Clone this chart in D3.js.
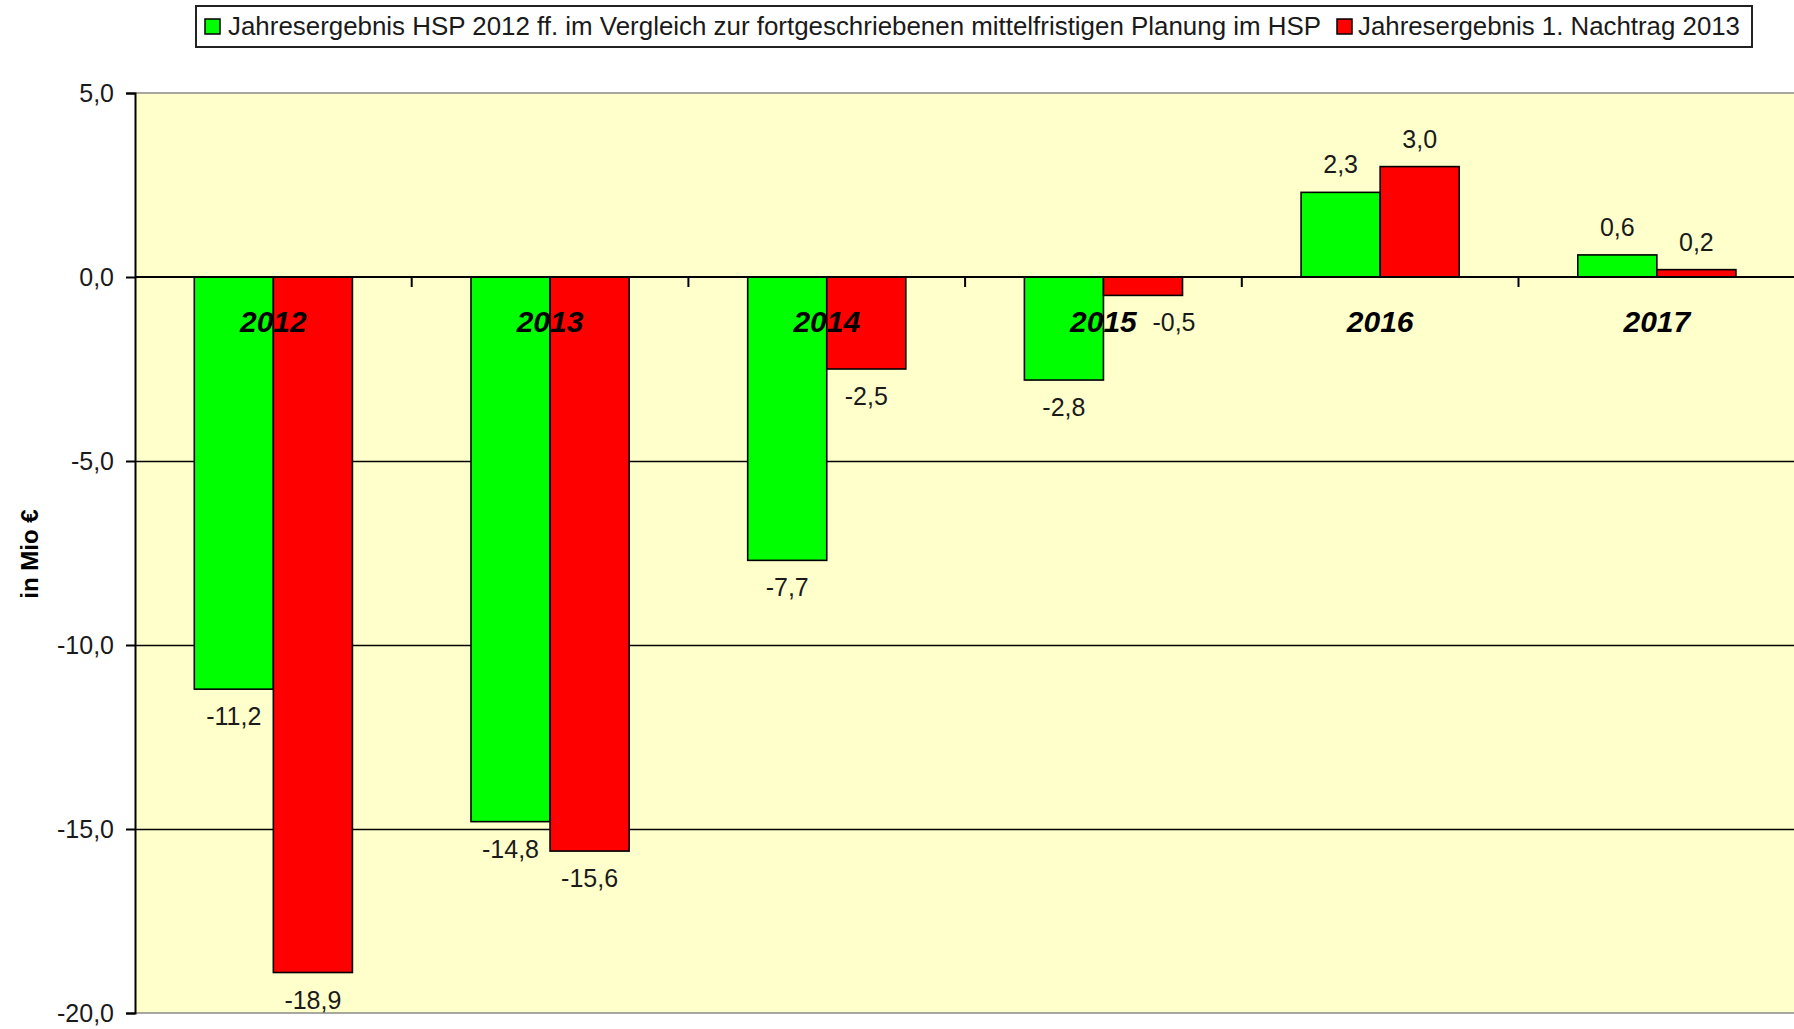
<!DOCTYPE html>
<html>
<head>
<meta charset="utf-8">
<script src="https://cdn.jsdelivr.net/npm/d3@7"></script>
<style>
  html, body { margin: 0; padding: 0; background: #fff; }
  svg { display: block; }
  text { font-family: "Liberation Sans", Arial, sans-serif; }
</style>
</head>
<body>
<svg id="chart" width="1794" height="1029"></svg>
<script>
// ---- data ----
const years = ["2012", "2013", "2014", "2015", "2016", "2017"];
const seriesNames = [
  "Jahresergebnis HSP 2012 ff. im Vergleich zur fortgeschriebenen mittelfristigen Planung im HSP",
  "Jahresergebnis 1. Nachtrag 2013"
];
const hspValues = [-11.2, -14.8, -7.7, -2.8, 2.3, 0.6];
const nachtragValues = [-18.9, -15.6, -2.5, -0.5, 3.0, 0.2];
const yTicks = [5, 0, -5, -10, -15, -20];
const seriesColors = ["#00FF00", "#FF0000"];

// ---- layout ----
const W = 1794, H = 1029;
const plot = { left: 135, top: 93, bottom: 1013, catWidth: 276.7 };
const svg = d3.select("#chart");

const locale = d3.formatLocale({ decimal: ",", thousands: ".", grouping: [3], currency: ["", " €"], minus: "-" });
const fmt = locale.format(".1f");

const y = d3.scaleLinear().domain([-20, 5]).range([plot.bottom, plot.top]);
const x0 = d3.scaleBand().domain(years)
  .range([plot.left, plot.left + plot.catWidth * years.length])
  .paddingInner(0).paddingOuter(0);
const x1 = d3.scaleBand().domain([0, 1]).range([0, x0.bandwidth()])
  .paddingInner(0).paddingOuter(0.75);

const plotRight = x0.range()[1];

// plot background
svg.append("rect")
  .attr("x", plot.left).attr("y", plot.top)
  .attr("width", plotRight - plot.left).attr("height", plot.bottom - plot.top)
  .attr("fill", "#FFFFCC");

// plot border (top & bottom gray)
svg.append("line").attr("x1", plot.left).attr("x2", plotRight)
  .attr("y1", plot.top).attr("y2", plot.top).attr("stroke", "#8a8a8a").attr("stroke-width", 1.5);
svg.append("line").attr("x1", plot.left).attr("x2", plotRight)
  .attr("y1", plot.bottom).attr("y2", plot.bottom).attr("stroke", "#8a8a8a").attr("stroke-width", 1.5);

// gridlines
svg.append("g").selectAll("line")
  .data(yTicks.filter(t => t !== 5 && t !== -20 && t !== 0))
  .join("line")
  .attr("x1", plot.left).attr("x2", plotRight)
  .attr("y1", d => Math.round(y(d)) + 0.5).attr("y2", d => Math.round(y(d)) + 0.5)
  .attr("stroke", "#000").attr("stroke-width", 1.4);

// bars
const data = years.map((yr, i) => ({ year: yr, vals: [hspValues[i], nachtragValues[i]] }));
const labelShift = { "2015-1": 31 };

const groups = svg.append("g").selectAll("g")
  .data(data).join("g")
  .attr("transform", d => `translate(${x0(d.year)},0)`);

groups.selectAll("rect")
  .data(d => d.vals.map((v, s) => ({ v, s, year: d.year })))
  .join("rect")
  .attr("x", d => x1(d.s))
  .attr("width", x1.bandwidth())
  .attr("y", d => y(Math.max(0, d.v)))
  .attr("height", d => Math.abs(y(d.v) - y(0)))
  .attr("fill", d => seriesColors[d.s])
  .attr("stroke", "#000").attr("stroke-width", 1.6);

// category labels (bold italic, inside plot below zero line)
svg.append("g").selectAll("text")
  .data(years).join("text")
  .attr("x", d => x0(d) + x0.bandwidth() / 2)
  .attr("y", y(0) + 55)
  .attr("text-anchor", "middle")
  .attr("font-size", 30).attr("font-weight", "bold").attr("font-style", "italic")
  .attr("fill", "#000")
  .text(d => d);

// data labels
groups.selectAll("text.val")
  .data(d => d.vals.map((v, s) => ({ v, s, year: d.year })))
  .join("text").attr("class", "val")
  .attr("x", d => x1(d.s) + x1.bandwidth() / 2 + (labelShift[d.year + "-" + d.s] || 0))
  .attr("y", d => d.v < 0 ? y(d.v) + 36 : y(d.v) - 19)
  .attr("text-anchor", "middle")
  .attr("font-size", 25).attr("fill", "#1a1a1a")
  .text(d => fmt(d.v));

// zero axis line
svg.append("line").attr("x1", plot.left).attr("x2", plotRight)
  .attr("y1", y(0)).attr("y2", y(0)).attr("stroke", "#000").attr("stroke-width", 2);

// category tick marks (at category boundaries)
svg.append("g").selectAll("line")
  .data(years.slice(1)).join("line")
  .attr("x1", d => x0(d)).attr("x2", d => x0(d))
  .attr("y1", y(0)).attr("y2", y(0) + 10)
  .attr("stroke", "#000").attr("stroke-width", 2);

// y axis
const yAxis = d3.axisLeft(y).tickValues(yTicks).tickSize(9).tickPadding(12).tickFormat(fmt);
const ga = svg.append("g").attr("transform", `translate(${plot.left},0)`).call(yAxis);
ga.select(".domain").attr("stroke", "#000").attr("stroke-width", 2);
ga.selectAll(".tick line").attr("stroke", "#000").attr("stroke-width", 2);
ga.selectAll(".tick text")
  .attr("font-size", 25).attr("font-family", "Liberation Sans, Arial, sans-serif")
  .attr("fill", "#1a1a1a");

// y axis title
svg.append("text")
  .attr("transform", "translate(38,554) rotate(-90)")
  .attr("text-anchor", "middle")
  .attr("font-size", 24).attr("font-weight", "bold").attr("fill", "#000")
  .text("in Mio €");

// legend
const lg = svg.append("g");
lg.append("rect").attr("x", 196).attr("y", 6).attr("width", 1556).attr("height", 41)
  .attr("fill", "#fff").attr("stroke", "#222").attr("stroke-width", 2);
const legendItems = [
  { marker: 205, textX: 228, textLen: 1093 },
  { marker: 1337, textX: 1358, textLen: 382 }
];
legendItems.forEach((it, i) => {
  lg.append("rect").attr("x", it.marker).attr("y", 19).attr("width", 15).attr("height", 15)
    .attr("fill", seriesColors[i]).attr("stroke", "#000").attr("stroke-width", 1.5);
  lg.append("text").attr("x", it.textX).attr("y", 35)
    .attr("font-size", 25).attr("fill", "#1a1a1a")
    .attr("textLength", it.textLen).attr("lengthAdjust", "spacingAndGlyphs")
    .text(seriesNames[i]);
});
</script>
</body>
</html>
